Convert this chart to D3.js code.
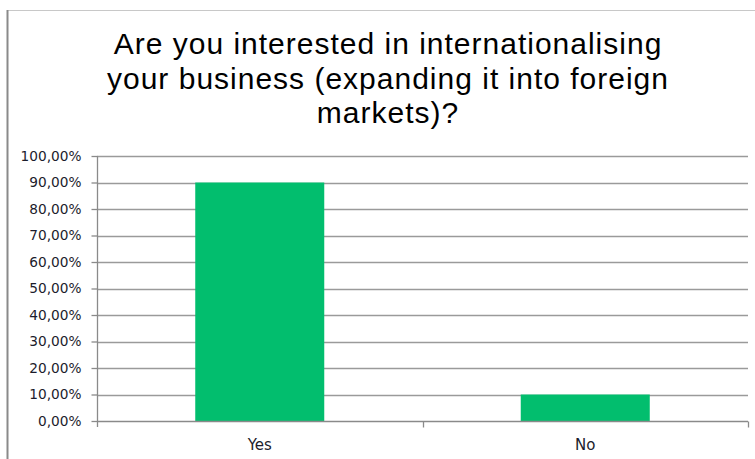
<!DOCTYPE html>
<html>
<head>
<meta charset="utf-8">
<script src="https://cdn.jsdelivr.net/npm/d3@7"></script>
<style>
  html, body { margin: 0; padding: 0; background: #fff; }
  svg { display: block; }
</style>
</head>
<body>
<svg id="chart" width="755" height="459"></svg>
<script>
// Survey answers and their shares (percent)
const categories = ["Yes", "No"];
const values = [90, 10];
const yTicks = [0, 10, 20, 30, 40, 50, 60, 70, 80, 90, 100];
const titleLines = [
  "Are you interested in internationalising",
  "your business (expanding it into foreign",
  "markets)?"
];

const svg = d3.select("#chart");
const W = 755, H = 459;
const plot = { left: 97, right: 748, top: 156, bottom: 421 };

// Chart frame (only the top and left edges are visible in the window)
svg.append("line").attr("x1", 7.5).attr("x2", W).attr("y1", 10.5).attr("y2", 10.5)
  .attr("stroke", "#c8c8c8").attr("stroke-width", 1);
svg.append("line").attr("x1", 7.5).attr("x2", 7.5).attr("y1", 10).attr("y2", H)
  .attr("stroke", "#8a8a8a").attr("stroke-width", 2);

// Title
svg.append("text")
  .attr("text-anchor", "middle")
  .attr("font-family", "Liberation Sans, Arial, sans-serif")
  .attr("font-size", 30)
  .attr("letter-spacing", 1)
  .attr("fill", "#000")
  .selectAll("tspan").data(titleLines).join("tspan")
  .attr("x", 388)
  .attr("y", (d, i) => 54 + i * 34.5)
  .text(d => d);

const x = d3.scaleBand().domain(categories).range([plot.left, plot.right]).paddingInner(0).paddingOuter(0);
const y = d3.scaleLinear().domain([0, 100]).range([plot.bottom, plot.top]);

// Horizontal gridlines
svg.append("g").selectAll("line").data(yTicks.filter(t => t > 0)).join("line")
  .attr("x1", plot.left).attr("x2", plot.right)
  .attr("y1", d => Math.round(y(d)) + 0.5).attr("y2", d => Math.round(y(d)) + 0.5)
  .attr("stroke", "#9a9a9a").attr("stroke-width", 1.3);

// Bars
const barW = 129;
svg.append("g").selectAll("rect").data(values).join("rect")
  .attr("x", (d, i) => x(categories[i]) + x.bandwidth() / 2 - barW / 2)
  .attr("width", barW)
  .attr("y", d => y(d))
  .attr("height", d => y(0) - y(d))
  .attr("fill", "#02be6e");

// Y axis
const yAxis = d3.axisLeft(y).tickValues(yTicks).tickSize(6).tickPadding(10)
  .tickFormat(d => d3.format(".2f")(d).replace(".", ",") + "%");
const gy = svg.append("g").attr("transform", `translate(${plot.left + 0.5},0)`).call(yAxis);
gy.select(".domain").remove();
gy.append("line").attr("x1", 0).attr("x2", 0).attr("y1", plot.top).attr("y2", plot.bottom + 6)
  .attr("stroke", "#8a8a8a").attr("stroke-width", 1.3);
gy.selectAll(".tick line").attr("stroke", "#8a8a8a").attr("stroke-width", 1.3);
gy.selectAll(".tick text")
  .attr("font-family", "DejaVu Sans, Verdana, sans-serif")
  .attr("font-size", 13.7)
  .attr("fill", "#1c1c2c");

// X axis
const xAxis = d3.axisBottom(x).tickSize(0).tickPadding(18);
const gx = svg.append("g").attr("transform", `translate(0,${plot.bottom + 0.5})`).call(xAxis);
gx.select(".domain").attr("stroke", "#8a8a8a").attr("stroke-width", 1.3).attr("d", `M${plot.left},0H${plot.right}`);
gx.selectAll(".tick text")
  .attr("font-family", "DejaVu Sans, Verdana, sans-serif")
  .attr("font-size", 15)
  .attr("fill", "#1c1c2c");
// Category separators
const seps = categories.slice(1).map(c => x(c)).concat([plot.right]);
gx.selectAll(".sep").data(seps).join("line").attr("class", "sep")
  .attr("x1", d => Math.round(d) + 0.5).attr("x2", d => Math.round(d) + 0.5)
  .attr("y1", 0).attr("y2", 6)
  .attr("stroke", "#8a8a8a").attr("stroke-width", 1.3);
</script>
</body>
</html>
